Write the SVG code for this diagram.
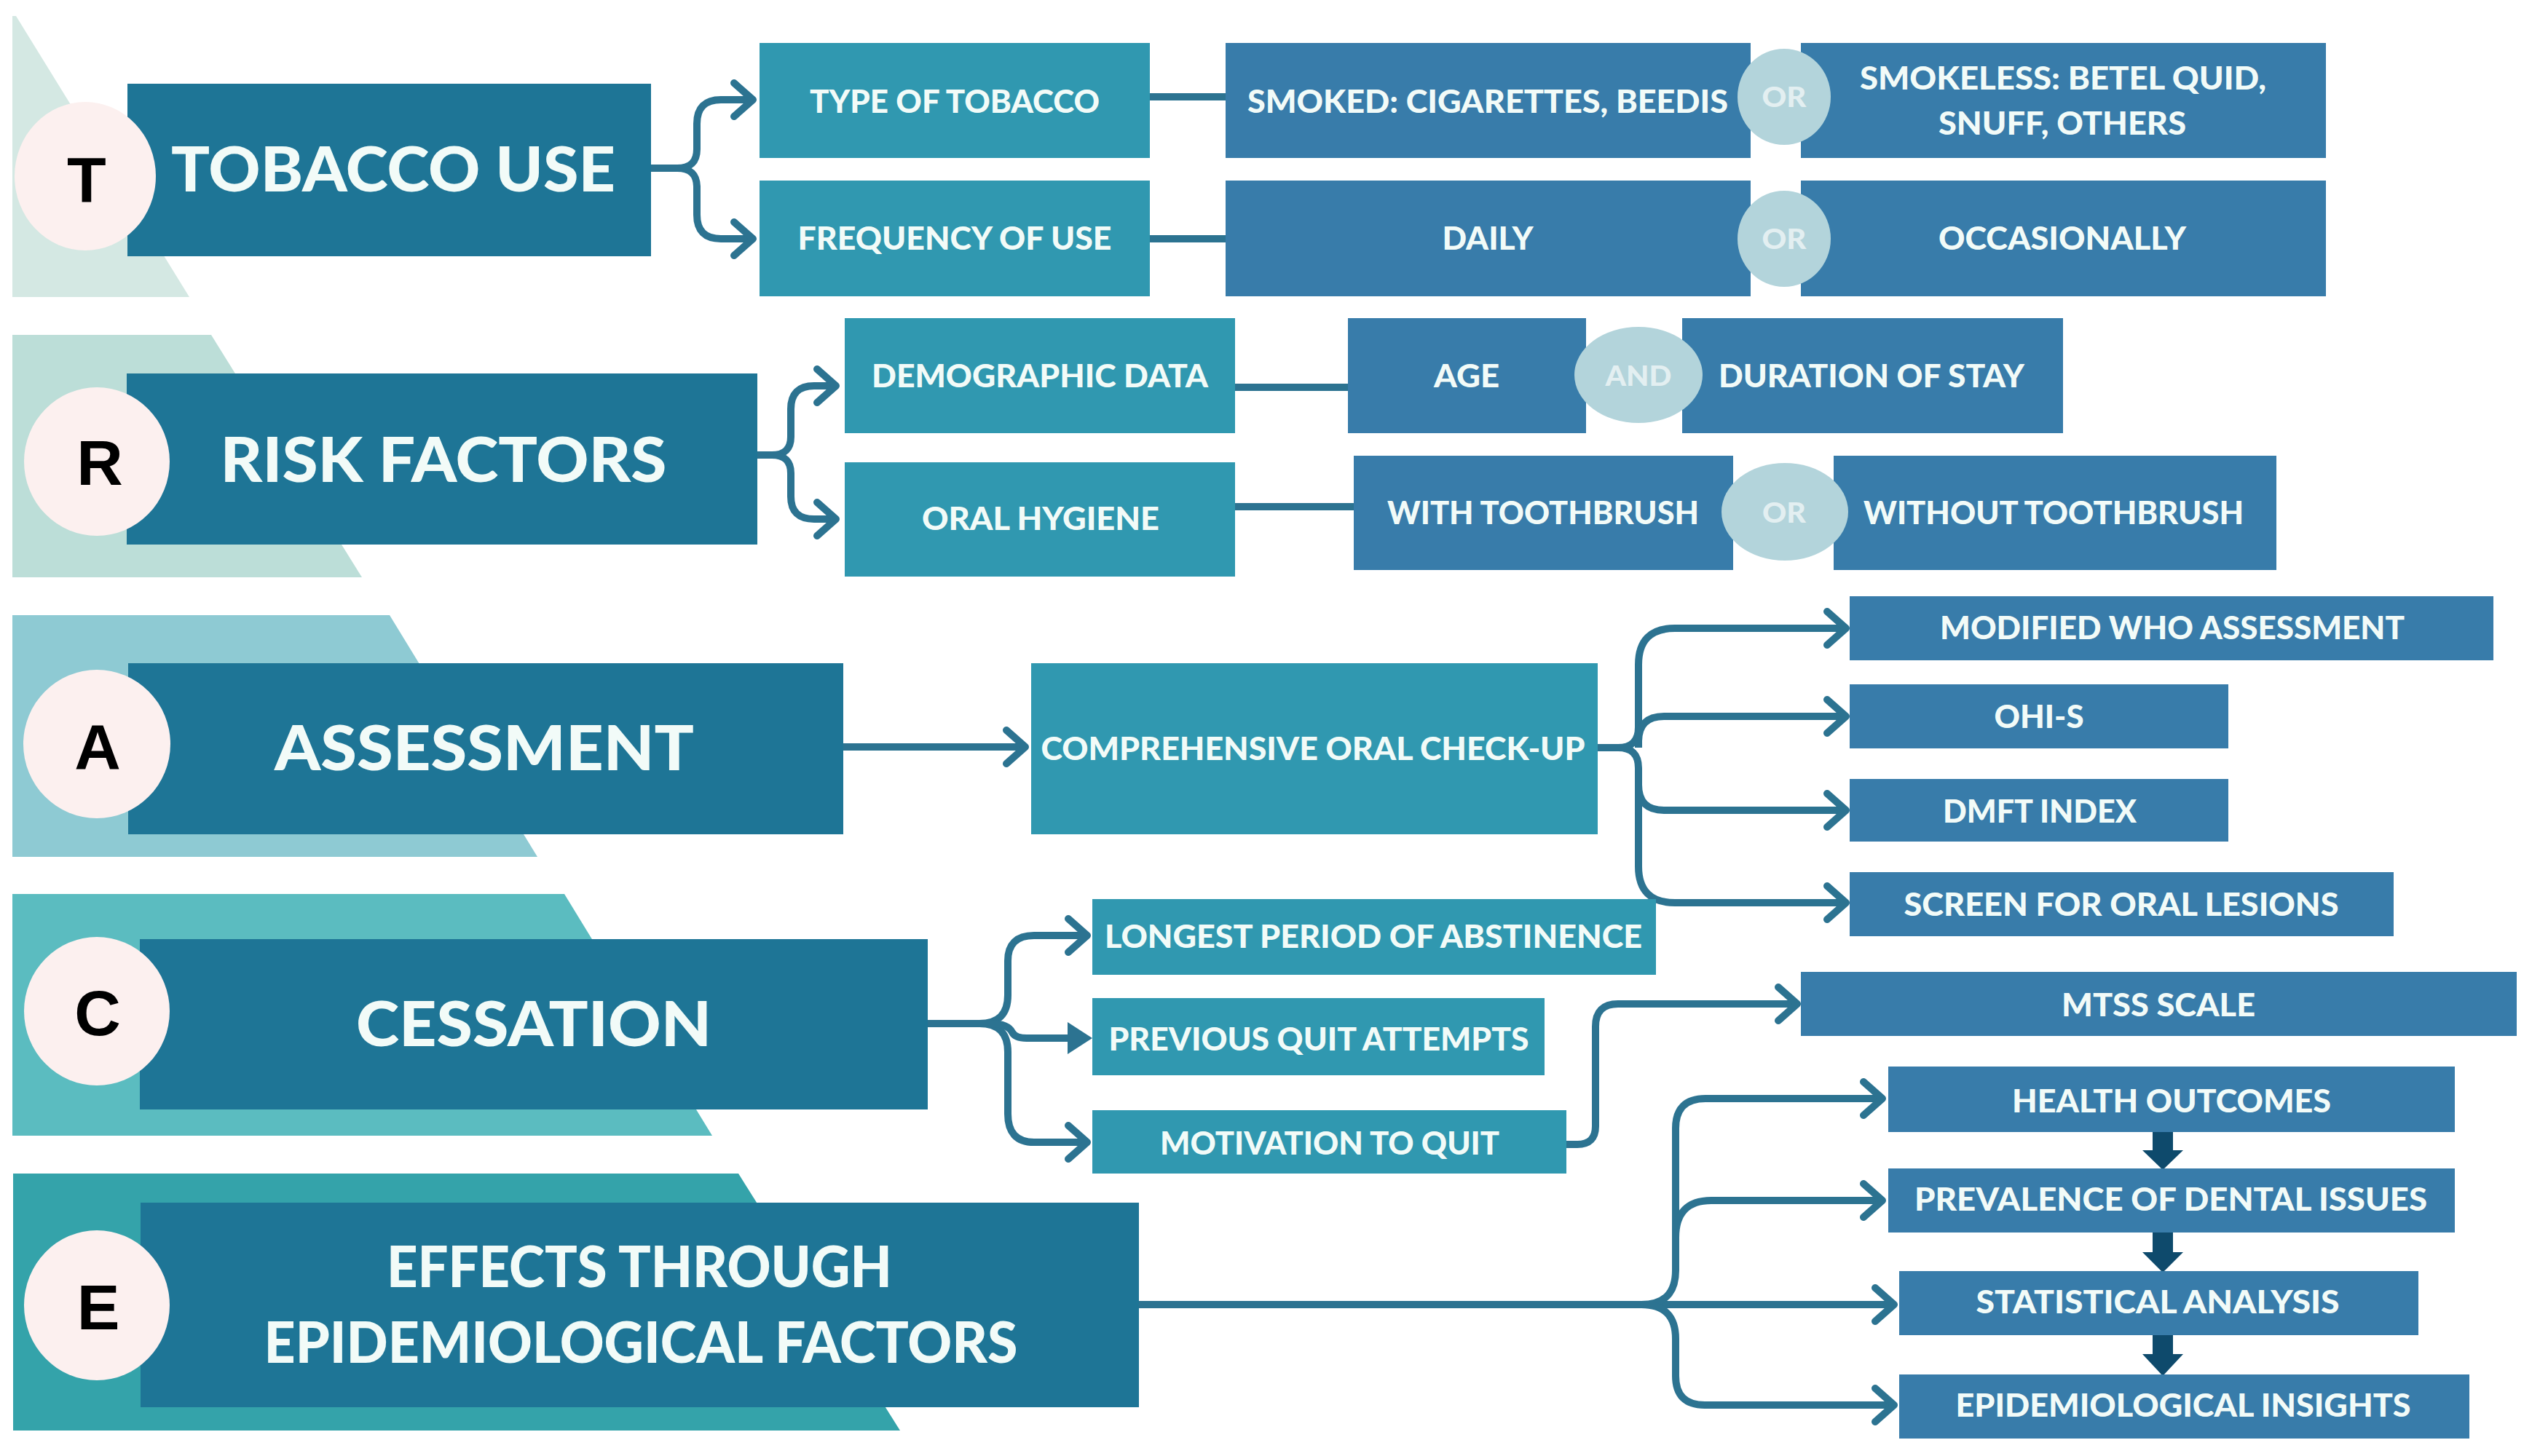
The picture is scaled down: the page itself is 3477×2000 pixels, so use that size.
<svg xmlns="http://www.w3.org/2000/svg" width="3477" height="2000" viewBox="0 0 3477 2000">
<defs>
<style>
.bgT{fill:#d4e8e3}.bgR{fill:#bcded8}.bgA{fill:#8ecad3}.bgC{fill:#5bbcc0}.bgE{fill:#34a3aa}
.main{fill:#1e7596}.sub{fill:#3098b0}.blue{fill:#387caa}
.circ{fill:#fcf0ef}
.op{fill:#b3d4db}
.lt{font-family:"Lato","Liberation Sans",sans-serif;font-weight:900;fill:#f2fbf8;text-anchor:middle}
.big{font-size:86px}.mid{font-size:78px}.sm{font-size:43px}.opt{font-size:38px;fill:#e3eff1}
.let{font-family:"Liberation Sans","Lato",sans-serif;font-weight:700;font-size:88px;fill:#000;text-anchor:middle}
.con{fill:none;stroke:#2c7391;stroke-width:10;stroke-linecap:butt;stroke-linejoin:round}
.down{fill:#0e4a6c}
</style>
<marker id="chev" markerUnits="userSpaceOnUse" markerWidth="50" markerHeight="60" viewBox="0 0 50 60" refX="40" refY="30" orient="auto">
<path d="M12,7 L38,30 L12,53" fill="none" stroke="#2c7391" stroke-width="10" stroke-linecap="round" stroke-linejoin="round"/>
</marker>
</defs>
<rect width="3477" height="2000" fill="#ffffff"/>

<g id="backgrounds">
<polygon class="bgT" points="17,22 22,22 260,408 17,408"/>
<polygon class="bgR" points="17,460 290,460 497,793 17,793"/>
<polygon class="bgA" points="17,845 535,845 738,1177 17,1177"/>
<polygon class="bgC" points="17,1228 775,1228 978,1560 17,1560"/>
<polygon class="bgE" points="18,1612 1014,1612 1236,1965 18,1965"/>
</g>

<g id="connectors">
<path class="con" d="M894,231 H930 Q957,231 957,205 V170 Q957,137 990,137 H1036" marker-end="url(#chev)"/>
<path class="con" d="M930,231 Q957,231 957,257 V295 Q957,328 990,328 H1036" marker-end="url(#chev)"/>
<path class="con" d="M1579,133 H1683"/>
<path class="con" d="M1579,328 H1683"/>
<path class="con" d="M1040,625 H1060 Q1086,625 1086,600 V562 Q1086,530 1118,530 H1150" marker-end="url(#chev)"/>
<path class="con" d="M1060,625 Q1086,625 1086,650 V682 Q1086,713 1118,713 H1150" marker-end="url(#chev)"/>
<path class="con" d="M1696,532 H1851"/>
<path class="con" d="M1696,696 H1859"/>
<path class="con" d="M1158,1026 H1410" marker-end="url(#chev)"/>
<path class="con" d="M2194,1027 H2222 Q2250,1027 2250,999 V913 Q2250,863 2300,863 H2537" marker-end="url(#chev)"/>
<path class="con" d="M2250,1027 V1019 Q2250,984 2285,984 H2537" marker-end="url(#chev)"/>
<path class="con" d="M2222,1027 Q2250,1027 2250,1055 V1078 Q2250,1113 2285,1113 H2537" marker-end="url(#chev)"/>
<path class="con" d="M2250,1055 V1190 Q2250,1240 2300,1240 H2537" marker-end="url(#chev)"/>
<path class="con" d="M1274,1406 H1345 Q1384,1406 1384,1367 V1320 Q1384,1285 1420,1285 H1495" marker-end="url(#chev)"/>
<path class="con" d="M1345,1406 Q1384,1406 1384,1445 V1530 Q1384,1569 1420,1569 H1495" marker-end="url(#chev)"/>
<path class="con" d="M1360,1406 Q1384,1406 1390,1418 Q1394,1426 1410,1426 H1472"/>
<polygon fill="#2c7391" points="1466,1404 1500,1426 1466,1448"/>
<path class="con" d="M2151,1572 H2166 Q2191,1572 2191,1547 V1410 Q2191,1379 2222,1379 H2470" marker-end="url(#chev)"/>
<path class="con" d="M1564,1792 H2603" marker-end="url(#chev)"/>
<path class="con" d="M2254,1792 Q2301,1792 2301,1745 V1550 Q2301,1509 2342,1509 H2587" marker-end="url(#chev)"/>
<path class="con" d="M2301,1700 Q2301,1649 2350,1649 H2587" marker-end="url(#chev)"/>
<path class="con" d="M2254,1792 Q2301,1792 2301,1839 V1890 Q2301,1930 2341,1930 H2603" marker-end="url(#chev)"/>
<g class="down">
<rect x="2956" y="1553" width="28" height="30"/><polygon points="2942,1580 2998,1580 2970,1607"/>
<rect x="2956" y="1691" width="28" height="31"/><polygon points="2942,1720 2998,1720 2970,1748"/>
<rect x="2956" y="1832" width="28" height="30"/><polygon points="2942,1860 2998,1860 2970,1890"/>
</g>
</g>

<g id="node-T">
<rect class="main" x="175" y="115" width="719" height="237"/>
<ellipse class="circ" cx="117" cy="242" rx="97" ry="102"/>
<text class="let" x="119" y="277">T</text>
<text class="lt big" x="540" y="263" textLength="610" lengthAdjust="spacingAndGlyphs">TOBACCO USE</text>
</g>
<g id="node-type">
<rect class="sub" x="1043" y="59" width="536" height="158"/>
<text class="lt sm" x="1311" y="155" textLength="398" lengthAdjust="spacingAndGlyphs">TYPE OF TOBACCO</text>
</g>
<g id="node-freq">
<rect class="sub" x="1043" y="248" width="536" height="159"/>
<text class="lt sm" x="1311" y="343" textLength="431" lengthAdjust="spacingAndGlyphs">FREQUENCY OF USE</text>
</g>
<g id="node-smoked">
<rect class="blue" x="1683" y="59" width="721" height="158"/>
<text class="lt sm" x="2043" y="155" textLength="660" lengthAdjust="spacingAndGlyphs">SMOKED: CIGARETTES, BEEDIS</text>
</g>
<g id="node-smokeless">
<rect class="blue" x="2473" y="59" width="721" height="158"/>
<text class="lt sm" x="2833" y="123" textLength="558" lengthAdjust="spacingAndGlyphs">SMOKELESS: BETEL QUID,</text>
<text class="lt sm" x="2832" y="185" textLength="340" lengthAdjust="spacingAndGlyphs">SNUFF, OTHERS</text>
</g>
<g id="node-or1">
<ellipse class="op" cx="2450" cy="133" rx="64" ry="66"/>
<text class="lt opt" x="2450" y="147" textLength="61" lengthAdjust="spacingAndGlyphs">OR</text>
</g>
<g id="node-daily">
<rect class="blue" x="1683" y="248" width="721" height="159"/>
<text class="lt sm" x="2043" y="343" textLength="125" lengthAdjust="spacingAndGlyphs">DAILY</text>
</g>
<g id="node-occ">
<rect class="blue" x="2473" y="248" width="721" height="159"/>
<text class="lt sm" x="2832" y="343" textLength="340" lengthAdjust="spacingAndGlyphs">OCCASIONALLY</text>
</g>
<g id="node-or2">
<ellipse class="op" cx="2450" cy="328" rx="64" ry="66"/>
<text class="lt opt" x="2450" y="342" textLength="61" lengthAdjust="spacingAndGlyphs">OR</text>
</g>

<g id="node-R">
<rect class="main" x="174" y="513" width="866" height="235"/>
<ellipse class="circ" cx="133" cy="634" rx="100" ry="102"/>
<text class="let" x="137" y="666">R</text>
<text class="lt big" x="609" y="662" textLength="613" lengthAdjust="spacingAndGlyphs">RISK FACTORS</text>
</g>
<g id="node-demo">
<rect class="sub" x="1160" y="437" width="536" height="158"/>
<text class="lt sm" x="1428" y="532" textLength="462" lengthAdjust="spacingAndGlyphs">DEMOGRAPHIC DATA</text>
</g>
<g id="node-oral">
<rect class="sub" x="1160" y="635" width="536" height="157"/>
<text class="lt sm" x="1429" y="728" textLength="326" lengthAdjust="spacingAndGlyphs">ORAL HYGIENE</text>
</g>
<g id="node-age">
<rect class="blue" x="1851" y="437" width="327" height="158"/>
<text class="lt sm" x="2014" y="532" textLength="90" lengthAdjust="spacingAndGlyphs">AGE</text>
</g>
<g id="node-duration">
<rect class="blue" x="2310" y="437" width="523" height="158"/>
<text class="lt sm" x="2570" y="532" textLength="420" lengthAdjust="spacingAndGlyphs">DURATION OF STAY</text>
</g>
<g id="node-and">
<ellipse class="op" cx="2250" cy="515" rx="88" ry="66"/>
<text class="lt opt" x="2250" y="530" textLength="91" lengthAdjust="spacingAndGlyphs">AND</text>
</g>
<g id="node-with">
<rect class="blue" x="1859" y="626" width="521" height="157"/>
<text class="lt sm" x="2119" y="720" textLength="428" lengthAdjust="spacingAndGlyphs">WITH TOOTHBRUSH</text>
</g>
<g id="node-without">
<rect class="blue" x="2518" y="626" width="608" height="157"/>
<text class="lt sm" x="2820" y="720" textLength="522" lengthAdjust="spacingAndGlyphs">WITHOUT TOOTHBRUSH</text>
</g>
<g id="node-or3">
<ellipse class="op" cx="2451" cy="703" rx="87" ry="67"/>
<text class="lt opt" x="2450" y="718" textLength="60" lengthAdjust="spacingAndGlyphs">OR</text>
</g>

<g id="node-A">
<rect class="main" x="176" y="911" width="982" height="235"/>
<ellipse class="circ" cx="133" cy="1022" rx="101" ry="102"/>
<text class="let" x="134" y="1056">A</text>
<text class="lt big" x="665" y="1058" textLength="576" lengthAdjust="spacingAndGlyphs">ASSESSMENT</text>
</g>
<g id="node-comp">
<rect class="sub" x="1416" y="911" width="778" height="235"/>
<text class="lt sm" x="1803" y="1044" textLength="747" lengthAdjust="spacingAndGlyphs">COMPREHENSIVE ORAL CHECK-UP</text>
</g>
<g id="node-who">
<rect class="blue" x="2540" y="819" width="884" height="88"/>
<text class="lt sm" x="2983" y="878" textLength="638" lengthAdjust="spacingAndGlyphs">MODIFIED WHO ASSESSMENT</text>
</g>
<g id="node-ohis">
<rect class="blue" x="2540" y="940" width="520" height="88"/>
<text class="lt sm" x="2800" y="1000" textLength="123" lengthAdjust="spacingAndGlyphs">OHI-S</text>
</g>
<g id="node-dmft">
<rect class="blue" x="2540" y="1070" width="520" height="86"/>
<text class="lt sm" x="2801" y="1130" textLength="266" lengthAdjust="spacingAndGlyphs">DMFT INDEX</text>
</g>
<g id="node-screen">
<rect class="blue" x="2540" y="1198" width="747" height="88"/>
<text class="lt sm" x="2913" y="1258" textLength="597" lengthAdjust="spacingAndGlyphs">SCREEN FOR ORAL LESIONS</text>
</g>

<g id="node-C">
<rect class="main" x="192" y="1290" width="1082" height="234"/>
<ellipse class="circ" cx="133" cy="1389" rx="100" ry="102"/>
<text class="let" x="134" y="1422">C</text>
<text class="lt big" x="733" y="1437" textLength="488" lengthAdjust="spacingAndGlyphs">CESSATION</text>
</g>
<g id="node-longest">
<rect class="sub" x="1500" y="1235" width="774" height="104"/>
<text class="lt sm" x="1886" y="1302" textLength="738" lengthAdjust="spacingAndGlyphs">LONGEST PERIOD OF ABSTINENCE</text>
</g>
<g id="node-previous">
<rect class="sub" x="1500" y="1371" width="621" height="106"/>
<text class="lt sm" x="1811" y="1443" textLength="577" lengthAdjust="spacingAndGlyphs">PREVIOUS QUIT ATTEMPTS</text>
</g>
<g id="node-motivation">
<rect class="sub" x="1500" y="1525" width="651" height="87"/>
<text class="lt sm" x="1826" y="1586" textLength="466" lengthAdjust="spacingAndGlyphs">MOTIVATION TO QUIT</text>
</g>
<g id="node-mtss">
<rect class="blue" x="2473" y="1335" width="983" height="88"/>
<text class="lt sm" x="2964" y="1396" textLength="266" lengthAdjust="spacingAndGlyphs">MTSS SCALE</text>
</g>

<g id="node-E">
<rect class="main" x="193" y="1652" width="1371" height="281"/>
<ellipse class="circ" cx="133" cy="1793" rx="100" ry="103"/>
<text class="let" x="135" y="1826">E</text>
<text class="lt mid" x="878" y="1768" textLength="694" lengthAdjust="spacingAndGlyphs">EFFECTS THROUGH</text>
<text class="lt mid" x="880" y="1872" textLength="1035" lengthAdjust="spacingAndGlyphs">EPIDEMIOLOGICAL FACTORS</text>
</g>
<g id="node-health">
<rect class="blue" x="2593" y="1465" width="778" height="90"/>
<text class="lt sm" x="2982" y="1528" textLength="438" lengthAdjust="spacingAndGlyphs">HEALTH OUTCOMES</text>
</g>
<g id="node-prev">
<rect class="blue" x="2593" y="1605" width="778" height="88"/>
<text class="lt sm" x="2981" y="1663" textLength="704" lengthAdjust="spacingAndGlyphs">PREVALENCE OF DENTAL ISSUES</text>
</g>
<g id="node-stat">
<rect class="blue" x="2608" y="1746" width="713" height="88"/>
<text class="lt sm" x="2963" y="1804" textLength="499" lengthAdjust="spacingAndGlyphs">STATISTICAL ANALYSIS</text>
</g>
<g id="node-epi">
<rect class="blue" x="2608" y="1888" width="783" height="88"/>
<text class="lt sm" x="2998" y="1946" textLength="625" lengthAdjust="spacingAndGlyphs">EPIDEMIOLOGICAL INSIGHTS</text>
</g>
</svg>
